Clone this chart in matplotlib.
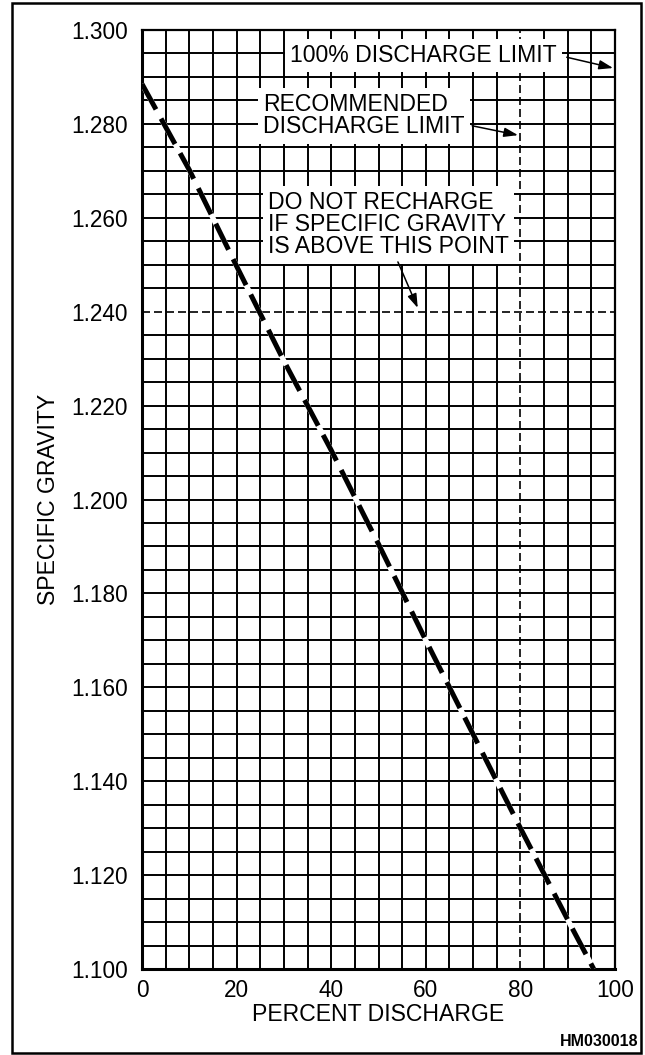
import numpy as np
import matplotlib
matplotlib.use("Agg")
import matplotlib.pyplot as plt
from matplotlib.patches import Rectangle

plt.rcParams['font.family'] = ['Liberation Sans', 'DejaVu Sans']

# curve
percent = [0, 10, 20, 30, 40, 50, 60, 70, 80, 90, 95.5]
gravity = [1.2885, 1.2702, 1.2497, 1.2295, 1.2105, 1.1905, 1.1700, 1.1500, 1.1300, 1.1105, 1.1000]

x_ticks = [0, 20, 40, 60, 80, 100]
y_ticks = [1.100, 1.120, 1.140, 1.160, 1.180, 1.200, 1.220, 1.240, 1.260, 1.280, 1.300]

recommended_limit = 80
recharge_gravity = 1.240

notes = [
    ("100% DISCHARGE LIMIT", (31.3, 1.2945), (89.8, 1.2942), (99.6, 1.2919)),
    ("RECOMMENDED\nDISCHARGE LIMIT", (25.6, 1.2817), (69.8, 1.2796), (79.5, 1.2776)),
    ("DO NOT RECHARGE\nIF SPECIFIC GRAVITY\nIS ABOVE THIS POINT", (26.6, 1.2585), (54.1, 1.2506), (58.3, 1.2408)),
]

W, H = 645, 1055
fig = plt.figure(figsize=(W / 100, H / 100), dpi=100)
ax = fig.add_axes([142 / W, 1 - 969 / H, (615 - 142) / W, (969 - 30) / H])

ax.set_xlim(0, 100)
ax.set_ylim(1.100, 1.300)

# grid paper (the 80% and 1.240 lines are drawn dashed instead)
gx = [v for v in np.arange(5, 100, 5) if v != recommended_limit]
gy = [v for v in np.arange(1.105, 1.2999, 0.005) if abs(v - recharge_gravity) > 1e-6]
ax.vlines(gx, 1.100, 1.300, color='black', lw=1.4, zorder=1)
ax.hlines(gy, 0, 100, color='black', lw=1.4, zorder=1)

ax.axvline(recommended_limit, color='black', lw=1.2, ls=(0, (4.8, 2.4)), zorder=2)
ax.axhline(recharge_gravity, color='black', lw=1.2, ls=(0, (4.8, 2.4)), zorder=2)

ax.plot(percent, gravity, color='white', lw=3.8, zorder=3, solid_capstyle='butt')
ax.plot(percent, gravity, color='black', lw=3.6, ls=(0, (5.8, 2.1)), zorder=4)

for txt, pos, start, tip in notes:
    ax.text(pos[0], pos[1], txt, ha='left', va='center', fontsize=16.6, linespacing=0.95,
            zorder=6, bbox=dict(boxstyle='square,pad=0.22', facecolor='white', edgecolor='none'))
    ax.annotate('', xy=tip, xytext=start, zorder=7,
                arrowprops=dict(arrowstyle='-|>,head_length=0.6,head_width=0.2', lw=1.1,
                                color='black', mutation_scale=14, shrinkA=0, shrinkB=0))

ax.set_xticks(x_ticks)
ax.set_xticklabels([str(v) for v in x_ticks])
ax.set_yticks(y_ticks)
ax.set_yticklabels([f"{v:.3f}" for v in y_ticks])
ax.tick_params(length=0, labelsize=16.3)
ax.tick_params(axis='y', pad=10)
ax.tick_params(axis='x', pad=7)

for side in ['left', 'bottom']:
    ax.spines[side].set_linewidth(2.2)
for side in ['top', 'right']:
    ax.spines[side].set_linewidth(1.6)

ax.set_xlabel("PERCENT DISCHARGE", fontsize=16.6, labelpad=1)
ax.set_ylabel("SPECIFIC GRAVITY", fontsize=16.6, labelpad=8)

fig.text(638 / W, 1 - 1042 / H, "HM030018", ha='right', va='center', fontsize=11.5, fontweight='bold')

# frame around the whole figure
fig.patches.append(Rectangle((12 / W, 1 - 1053 / H), (641 - 12) / W, (1053 - 3) / H,
                             transform=fig.transFigure, fill=False, edgecolor='black', lw=1.8))

fig.savefig("out.png", dpi=100)
